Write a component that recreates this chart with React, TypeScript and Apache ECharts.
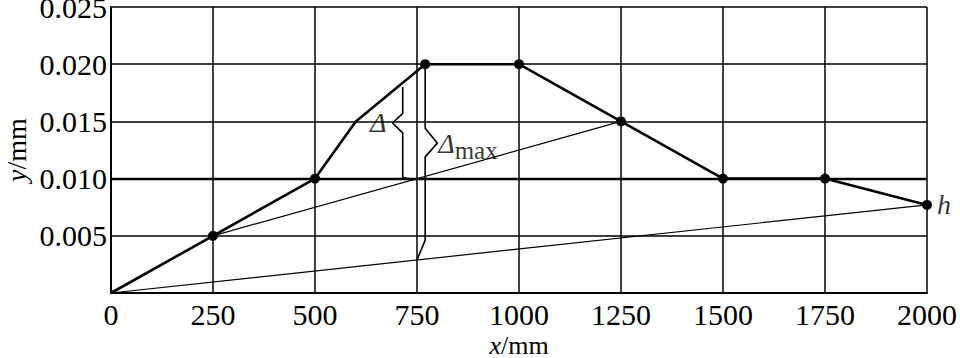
import React, { useEffect, useRef } from "react";
import * as echarts from "echarts";

const xTicks = [0, 250, 500, 750, 1000, 1250, 1500, 1750, 2000];
const yTicks = [0.005, 0.01, 0.015, 0.02, 0.025];
const mainX = [0, 250, 500, 600, 770, 1000, 1250, 1500, 1750, 2000];
const mainY = [0, 0.005, 0.01, 0.015, 0.02, 0.02, 0.015, 0.01, 0.01, 0.0077];
const mainMarked = [false, true, true, false, true, true, true, true, true, true];
const chordH: number[][] = [[0, 0], [2000, 0.0077]];
const chordMid: number[][] = [[250, 0.005], [1250, 0.015]];
const braceDelta: number[][] = [[715, 0.018], [715, 0.0157], [690, 0.01486], [715, 0.014], [715, 0.0101], [745, 0.0099]];
const braceDeltaMax: number[][] = [[770, 0.02], [770, 0.0144], [800, 0.0131], [770, 0.0119], [770, 0.0046], [750, 0.0029]];
const labelDelta: number[] = [655, 0.0149];
const labelDeltaMax: number[] = [802, 0.0131];
const labelH: number[] = [2000, 0.0077];

const FONT = "'Liberation Serif', 'Times New Roman', serif";

export default function App() {
  const ref = useRef<HTMLDivElement>(null);
  useEffect(() => {
    if (!ref.current) return;
    const chart = echarts.init(ref.current, undefined, { renderer: "svg" });
    const thin = { color: "#000", width: 1.2 };
    const brace = { color: "#000", width: 1.6 };
    chart.setOption({
      animation: false,
      backgroundColor: "#fff",
      textStyle: { fontFamily: FONT, color: "#000" },
      grid: { left: 111, right: 33, top: 7, bottom: 65, containLabel: false, outerBoundsMode: "none" },
      xAxis: {
        type: "value",
        min: 0,
        max: 2000,
        interval: 250,
        name: "{i|x}/mm",
        nameLocation: "middle",
        nameMoveOverlap: false,
        nameGap: 39,
        nameTextStyle: {
          fontFamily: FONT,
          fontSize: 26,
          lineHeight: 26,
          color: "#000",
          verticalAlign: "top",
          rich: { i: { fontStyle: "italic", fontFamily: FONT, fontSize: 26, lineHeight: 26, color: "#000" } },
        },
        axisLine: { show: true, lineStyle: { color: "#000", width: 2 } },
        axisTick: { show: false },
        axisLabel: {
          fontFamily: FONT,
          fontSize: 30,
          color: "#000",
          margin: 6,
          formatter: (v: number) => (xTicks.includes(v) ? String(v) : ""),
        },
        splitLine: { show: true, lineStyle: { color: "#000", width: 1.5 } },
      },
      yAxis: {
        type: "value",
        min: 0,
        max: 0.025,
        interval: 0.005,
        name: "{i|y}/mm",
        nameLocation: "middle",
        nameMoveOverlap: false,
        nameGap: 82,
        nameRotate: 90,
        nameTextStyle: {
          fontFamily: FONT,
          fontSize: 28,
          lineHeight: 26,
          color: "#000",
          rich: { i: { fontStyle: "italic", fontFamily: FONT, fontSize: 28, lineHeight: 26, color: "#000" } },
        },
        axisLine: { show: true, lineStyle: { color: "#000", width: 2 } },
        axisTick: { show: false },
        axisLabel: {
          fontFamily: FONT,
          fontSize: 30,
          color: "#000",
          margin: 4,
          formatter: (v: number) => {
            const t = yTicks.find((k) => Math.abs(k - v) < 1e-9);
            return t !== undefined ? t.toFixed(3) : "";
          },
        },
        splitLine: { show: true, lineStyle: { color: "#000", width: 1.5 } },
      },
      series: [
        {
          type: "line",
          data: chordH,
          symbol: "none",
          lineStyle: thin,
          z: 3,
          markLine: {
            silent: true,
            symbol: "none",
            label: { show: false },
            lineStyle: { color: "#000", width: 2.4, type: "solid" },
            data: [{ yAxis: 0.01 }],
          },
        },
        { type: "line", data: chordMid, symbol: "none", lineStyle: thin, z: 3 },
        { type: "line", data: braceDelta, symbol: "none", lineStyle: brace, z: 3 },
        { type: "line", data: braceDeltaMax, symbol: "none", lineStyle: brace, z: 3 },
        {
          type: "line",
          data: mainX.map((x, i) => ({
            value: [x, mainY[i]],
            symbol: mainMarked[i] ? "circle" : "none",
          })),
          symbol: "circle",
          symbolSize: 10,
          showSymbol: true,
          itemStyle: { color: "#000" },
          lineStyle: { color: "#000", width: 2.6 },
          z: 5,
        },
        {
          type: "scatter",
          symbolSize: 0,
          z: 6,
          data: [
            {
              value: labelDelta,
              label: {
                show: true,
                position: "inside",
                formatter: "Δ",
                fontFamily: FONT,
                fontStyle: "italic",
                fontSize: 28,
                color: "#000",
              },
            },
            {
              value: labelDeltaMax,
              label: {
                show: true,
                position: "right",
                distance: 0,
                formatter: "{d|Δ}{s|max}",
                rich: {
                  d: { fontFamily: FONT, fontStyle: "italic", fontSize: 28, color: "#000" },
                  s: { fontFamily: FONT, fontSize: 25, color: "#000", padding: [14, 0, 0, 0] },
                },
              },
            },
            {
              value: labelH,
              label: {
                show: true,
                position: "right",
                distance: 10,
                formatter: "h",
                fontFamily: FONT,
                fontStyle: "italic",
                fontSize: 28,
                color: "#000",
              },
            },
          ],
        },
      ],
    });
    return () => chart.dispose();
  }, []);
  return <div ref={ref} style={{ width: 960, height: 358, position: "absolute", left: 0, top: 0 }} />;
}
